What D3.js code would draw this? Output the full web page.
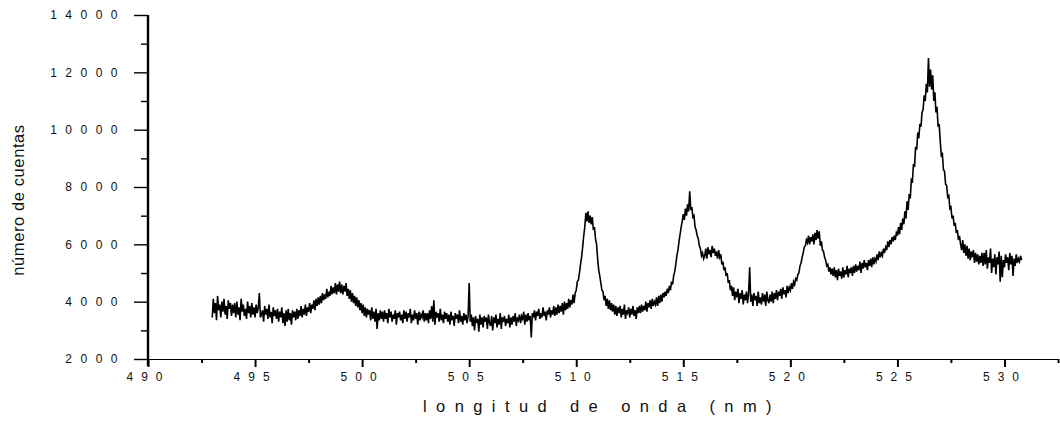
<!DOCTYPE html>
<html>
<head>
<meta charset="utf-8">
<script src="https://cdn.jsdelivr.net/npm/d3@7"></script>
<style>
  html, body { margin: 0; padding: 0; background: #fff; }
  svg { display: block; }
  text { font-family: "Liberation Sans", Arial, sans-serif; fill: #111; }
</style>
</head>
<body>
<svg id="chart" width="1060" height="421"></svg>
<script>
// Emission spectrum, sampled every 0.05 nm.
// Each row: [first wavelength of the row (nm), counts at +0.00, +0.05, ... nm]
const wavelengthStep = 0.05;

const spectrumRows = [
  [493, [3450, 4100, 3600, 3950, 3350, 4200, 3700, 3900, 3450, 4000,
         3650, 4100, 3550, 3850, 3400, 4050, 3750, 3950, 3500, 3900]],
  [494, [3600, 3950, 3450, 4000, 3550, 3800, 3350, 4100, 3650, 3900,
         3500, 3750, 3400, 4000, 3600, 3850, 3450, 3950, 3550, 3800]],
  [495, [3450, 3900, 3600, 3800, 4300, 3450, 3550, 3700, 3300, 3850,
         3550, 3750, 3400, 3900, 3450, 3650, 3250, 3800, 3500, 3700]],
  [496, [3400, 3750, 3300, 3650, 3450, 3800, 3250, 3600, 3150, 3700,
         3300, 3750, 3350, 3600, 3200, 3700, 3450, 3650, 3350, 3750]],
  [497, [3400, 3700, 3500, 3850, 3450, 3750, 3550, 3900, 3500, 3800,
         3650, 3950, 3600, 3900, 3750, 4050, 3700, 4100, 3850, 4150]],
  [498, [3900, 4200, 3950, 4300, 4050, 4250, 4100, 4450, 4150, 4350,
         4200, 4550, 4250, 4500, 4300, 4650, 4250, 4600, 4350, 4700]],
  [499, [4300, 4600, 4250, 4550, 4350, 4650, 4200, 4450, 4100, 4400,
         4000, 4300, 3950, 4200, 3850, 4150, 3800, 4050, 3700, 3950]],
  [500, [3600, 3900, 3500, 3800, 3450, 3750, 3550, 3700, 3350, 3800,
         3400, 3650, 3300, 3750, 3050, 3600, 3350, 3700, 3400, 3650]],
  [501, [3300, 3700, 3400, 3600, 3250, 3750, 3450, 3650, 3300, 3550,
         3400, 3700, 3200, 3600, 3450, 3650, 3350, 3550, 3250, 3700]],
  [502, [3400, 3650, 3300, 3600, 3450, 3750, 3250, 3550, 3350, 3700,
         3400, 3600, 3200, 3650, 3350, 3550, 3450, 3700, 3300, 3600]],
  [503, [3350, 3600, 3250, 3700, 3400, 3850, 3300, 4050, 3200, 3650,
         3450, 3600, 3300, 3750, 3350, 3550, 3250, 3650, 3400, 3600]],
  [504, [3300, 3550, 3200, 3650, 3350, 3500, 3150, 3600, 3400, 3550,
         3250, 3700, 3300, 3500, 3200, 3600, 3350, 3550, 3250, 3500]],
  [505, [4650, 3300, 3550, 3150, 3450, 3000, 3500, 3250, 3400, 2950,
         3550, 3200, 3450, 3100, 3500, 3300, 3450, 3050, 3550, 3250]],
  [506, [3150, 3500, 3000, 3450, 3250, 3550, 3100, 3400, 3200, 3600,
         3050, 3450, 3300, 3500, 3150, 3400, 3250, 3550, 3100, 3450]],
  [507, [3200, 3500, 3300, 3600, 3150, 3450, 3350, 3550, 3250, 3500,
         3400, 3650, 3200, 3550, 3300, 3600, 3350, 3500, 2750, 3600]],
  [508, [3450, 3700, 3350, 3650, 3500, 3750, 3400, 3600, 3450, 3800,
         3500, 3650, 3350, 3700, 3550, 3800, 3450, 3700, 3550, 3850]],
  [509, [3500, 3800, 3550, 3900, 3600, 3850, 3650, 3950, 3550, 4000,
         3700, 3950, 3750, 4100, 3800, 4050, 3900, 4250, 3950, 4300]],
  [510, [4400, 4700, 4750, 5000, 5300, 5550, 5900, 6300, 6600, 7100,
         6800, 7150, 6750, 7000, 6700, 6950, 6500, 6600, 6200, 6000]],
  [511, [5500, 5100, 4900, 4650, 4400, 4350, 4050, 4200, 3850, 4100,
         3750, 4050, 3700, 3950, 3650, 3900, 3550, 3850, 3500, 3800]],
  [512, [3600, 3850, 3450, 3750, 3550, 3900, 3400, 3700, 3600, 3800,
         3450, 3750, 3550, 3850, 3500, 3700, 3400, 3800, 3600, 3850]],
  [513, [3600, 3900, 3650, 3850, 3700, 4000, 3650, 3950, 3800, 4050,
         3750, 4100, 3850, 4000, 3900, 4150, 3850, 4200, 3950, 4250]],
  [514, [4000, 4300, 4150, 4350, 4200, 4450, 4300, 4550, 4400, 4700,
         4600, 4900, 5050, 5300, 5600, 5800, 6100, 6350, 6600, 6800]],
  [515, [7050, 6850, 7250, 7000, 7400, 7150, 7850, 7200, 7300, 6950,
         7000, 6600, 6500, 6300, 6200, 5950, 5850, 5600, 5700, 5500]],
  [516, [5600, 5850, 5500, 5900, 5650, 5800, 5550, 5950, 5700, 5850,
         5600, 5750, 5500, 5800, 5550, 5650, 5300, 5400, 5100, 5200]],
  [517, [4900, 5000, 4650, 4750, 4400, 4550, 4200, 4500, 4050, 4350,
         4150, 4450, 3950, 4300, 4100, 4400, 3900, 4250, 4050, 4350]],
  [518, [3950, 4300, 5200, 4000, 4250, 3850, 4300, 4050, 4200, 3850,
         4350, 3950, 4150, 3900, 4300, 4000, 4250, 3850, 4350, 4050]],
  [519, [3950, 4250, 4000, 4350, 3950, 4300, 4100, 4400, 4050, 4350,
         4200, 4450, 4100, 4500, 4250, 4400, 4150, 4550, 4300, 4500]],
  [520, [4400, 4650, 4450, 4700, 4600, 4800, 4750, 4950, 5000, 5250,
         5350, 5550, 5700, 5900, 5950, 6150, 6050, 6300, 6000, 6250]],
  [521, [6100, 6350, 6000, 6400, 6150, 6500, 6200, 6450, 5950, 6100,
         5800, 5750, 5550, 5450, 5250, 5300, 5050, 5200, 4950, 5150]],
  [522, [4900, 5200, 4850, 5100, 4750, 5150, 4900, 5050, 4800, 5200,
         4850, 5100, 4950, 5250, 4850, 5150, 5000, 5200, 4900, 5250]],
  [523, [5000, 5300, 5050, 5250, 5100, 5400, 5000, 5350, 5150, 5450,
         5200, 5350, 5100, 5450, 5250, 5500, 5200, 5550, 5300, 5500]],
  [524, [5400, 5650, 5450, 5750, 5550, 5700, 5600, 5850, 5700, 5900,
         5800, 6100, 5900, 6150, 6000, 6250, 6100, 6300, 6150, 6400]],
  [525, [6300, 6600, 6350, 6750, 6500, 6900, 6700, 7150, 6900, 7500,
         7200, 7750, 7600, 8250, 8200, 8800, 8700, 9400, 9300, 9900]],
  [526, [9700, 10200, 10100, 10600, 10700, 11200, 11000, 11600, 11300, 12500,
         11500, 12100, 11400, 11900, 11000, 11300, 10600, 10800, 10100, 10200]],
  [527, [9600, 9100, 9150, 8600, 8550, 8100, 8050, 7650, 7700, 7250,
         7300, 6900, 7000, 6650, 6750, 6400, 6500, 6150, 6300, 6000]],
  [528, [5800, 6150, 5700, 6000, 5600, 5950, 5500, 5850, 5450, 5750,
         5550, 5800, 5350, 5700, 5400, 5650, 5300, 5600, 5350, 5700]],
  [529, [5250, 5700, 5300, 5800, 5150, 5550, 5350, 5850, 5000, 5500,
         5200, 5650, 4950, 5550, 5300, 5750, 4700, 5600, 4850, 5450]],
  [530, [5200, 5650, 5350, 5550, 5100, 5700, 5300, 5600, 4900, 5500,
         5250, 5650, 5350, 5500, 5400, 5600, 5450]]
];

const xMajorTicks = [490, 495, 500, 505, 510, 515, 520, 525, 530];
const xMinorTicks = [492.5, 497.5, 502.5, 507.5, 512.5, 517.5, 522.5, 527.5, 532.5];
const yMajorTicks = [2000, 4000, 6000, 8000, 10000, 12000, 14000];
const yMinorTicks = [3000, 5000, 7000, 9000, 11000, 13000];

const xTitle = "longitud de onda (nm)";
const yTitle = "número de cuentas";

const svg = d3.select("#chart");
const plot = { left: 148, right: 1058, top: 15, bottom: 359 };

const x = d3.scaleLinear().domain([490, 532.5]).range([plot.left, plot.right]);
const y = d3.scaleLinear().domain([2000, 14000]).range([plot.bottom, plot.top]);

const data = spectrumRows.flatMap(([nm, row]) =>
  row.map((c, j) => ({ wl: nm + j * wavelengthStep, c })));

// spectrum trace
svg.append("path")
  .datum(data)
  .attr("fill", "none")
  .attr("stroke", "#000")
  .attr("stroke-width", 1.6)
  .attr("stroke-linejoin", "miter")
  .attr("d", d3.line().x(d => x(d.wl)).y(d => y(d.c)));

// x axis
const gx = svg.append("g").attr("transform", `translate(0,${plot.bottom})`);
gx.call(d3.axisBottom(x).tickValues(xMajorTicks).tickSize(8).tickPadding(5)
  .tickFormat(d3.format("d")));
gx.select(".domain").attr("stroke", "#000").attr("stroke-width", 1.2).attr("d", `M${plot.left},0.5H${plot.right}`);
gx.selectAll(".tick line").attr("stroke", "#000").attr("stroke-width", 2);
gx.selectAll(".tick text").attr("font-size", 12).attr("letter-spacing", "8px")
  .attr("font-family", '"Liberation Sans", Arial, sans-serif').attr("fill", "#111");

const gxMinor = svg.append("g").attr("transform", `translate(0,${plot.bottom})`);
gxMinor.call(d3.axisBottom(x).tickValues(xMinorTicks).tickSize(4).tickFormat(""));
gxMinor.select(".domain").remove();
gxMinor.selectAll(".tick line").attr("stroke", "#000").attr("stroke-width", 2);

// y axis
const gy = svg.append("g").attr("transform", `translate(${plot.left},0)`);
gy.call(d3.axisLeft(y).tickValues(yMajorTicks).tickSize(14).tickPadding(8)
  .tickFormat(d3.format("d")));
gy.select(".domain").attr("stroke", "#000").attr("stroke-width", 2.4)
  .attr("d", `M0,${plot.top}V${plot.bottom + 7}`);
gy.selectAll(".tick line").attr("stroke", "#000").attr("stroke-width", 1.4);
gy.selectAll(".tick text").attr("font-size", 12).attr("letter-spacing", "8.5px")
  .attr("font-family", '"Liberation Sans", Arial, sans-serif').attr("fill", "#111");

const gyMinor = svg.append("g").attr("transform", `translate(${plot.left},0)`);
gyMinor.call(d3.axisLeft(y).tickValues(yMinorTicks).tickSize(7).tickFormat(""));
gyMinor.select(".domain").remove();
gyMinor.selectAll(".tick line").attr("stroke", "#000").attr("stroke-width", 1.4);

// titles
svg.append("text")
  .attr("x", 602).attr("y", 412)
  .attr("text-anchor", "middle")
  .attr("font-size", 16.5)
  .attr("letter-spacing", "9.4px")
  .text(xTitle);

svg.append("text")
  .attr("transform", "translate(24,200) rotate(-90)")
  .attr("text-anchor", "middle")
  .attr("font-size", 16.5)
  .attr("letter-spacing", "0.6px")
  .text(yTitle);
</script>
</body>
</html>
